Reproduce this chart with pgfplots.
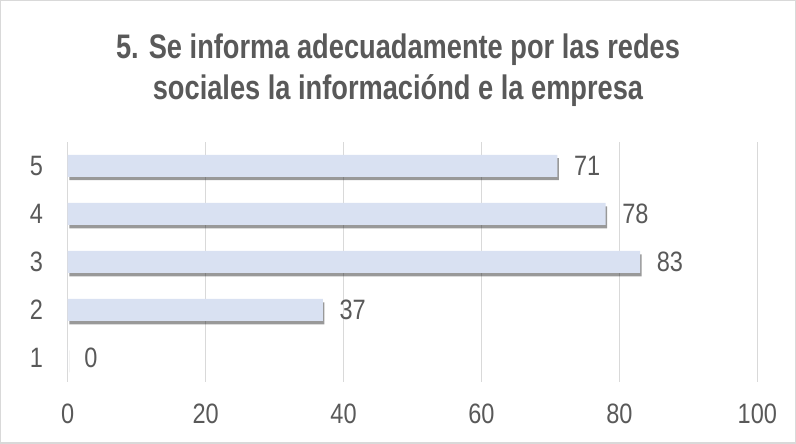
\documentclass[border=0pt]{standalone}
\usepackage{fontspec}
\setmainfont{Liberation Sans}[FakeStretch=0.84]
\usepackage{pgfplots}
\pgfplotsset{compat=1.18}
\usetikzlibrary{shadows}
\definecolor{barfill}{HTML}{D9E1F2}
\definecolor{txtgrey}{HTML}{595959}
\definecolor{gridgrey}{HTML}{D9D9D9}

\begin{document}
\begin{tikzpicture}
\begin{axis}[
  scale only axis,
  width=516.75pt, height=180pt,
  xmin=0, xmax=100, ymin=0.5, ymax=5.5,
  xtick={0,20,40,60,80,100}, ytick={1,2,3,4,5},
  xmajorgrids, major grid style={gridgrey, line width=0.9pt},
  axis line style={draw=none},
  major tick length=0pt,
  /pgf/number format/assume math mode=true,
  tick label style={font=\fontsize{21}{23}\selectfont, text=txtgrey},
  yticklabel style={xshift=-15pt},
  xticklabel style={yshift=-13pt},
  point meta=x,
  nodes near coords,
  nodes near coords style={font=\fontsize{21}{23}\selectfont, text=txtgrey, anchor=west, xshift=9pt},
  clip=false,
]
\addplot[xbar, bar width=16.5pt, fill=barfill, draw=none,
  drop shadow={shadow xshift=1.2pt, shadow yshift=-2.6pt, opacity=0.4, fill=black}]
  coordinates {(0,1) (37,2) (83,3) (78,4) (71,5)};
\end{axis}
\node[anchor=base, font=\bfseries\fontsize{25.5}{30}\selectfont\addfontfeature{FakeStretch=0.8}, text=txtgrey]
  at ([xshift=247.5pt, yshift=62.25pt]current axis.north west) {5. Se informa adecuadamente por las redes};
\node[anchor=base, font=\bfseries\fontsize{25.5}{30}\selectfont\addfontfeature{FakeStretch=0.8}, text=txtgrey]
  at ([xshift=247.5pt, yshift=31.5pt]current axis.north west) {sociales la informaciónd e la empresa};
\draw[gridgrey, line width=0.9pt]
  ([xshift=-50.25pt, yshift=-45.75pt]current axis.south west) rectangle
  ([xshift=28.5pt, yshift=105.75pt]current axis.north east);
\end{tikzpicture}
\end{document}
